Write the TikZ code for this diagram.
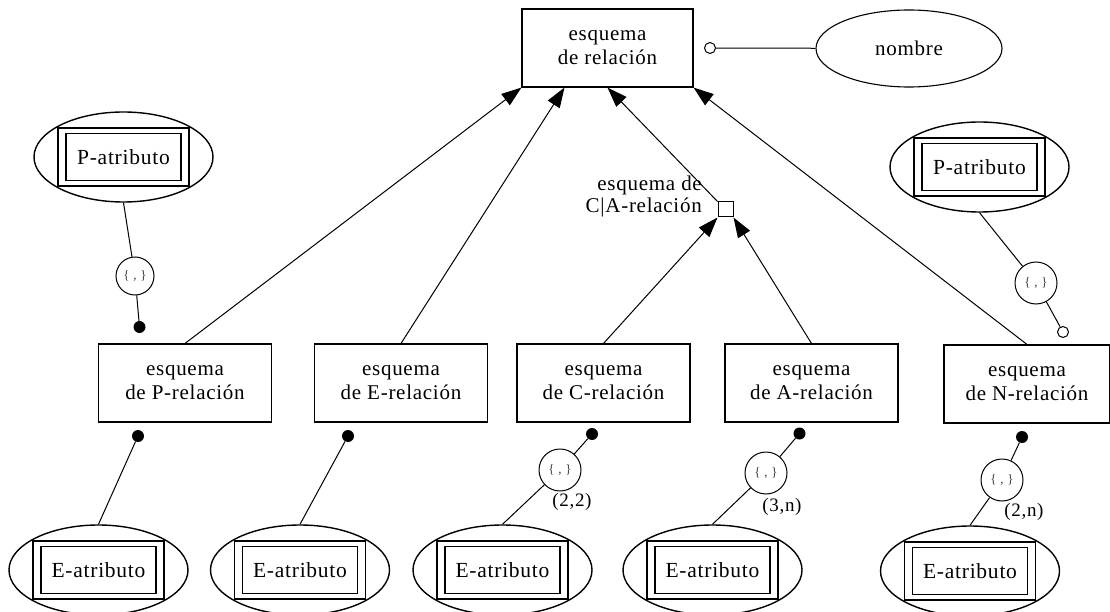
\documentclass[tikz,border=0pt]{standalone}
\usepackage{fontspec}
\setmainfont{Liberation Serif}[LetterSpace=3.5]
\usetikzlibrary{arrows.meta,shapes.geometric,calc}

\tikzset{
  relbox/.style={draw, line width=1.1pt, minimum width=173pt, minimum height=78pt,
    inner sep=0pt, align=center, font=\fontsize{21}{24}\selectfont},
  attrell/.style={draw, ellipse, line width=1.4pt, minimum width=179pt, minimum height=90pt, inner sep=0pt},
  attrout/.style={draw, line width=1.8pt, minimum width=131pt, minimum height=58pt, inner sep=0pt},
  attrin/.style={draw, line width=1.8pt, minimum width=115pt, minimum height=47pt, inner sep=0pt,
    font=\fontsize{21.5}{24}\selectfont},
  setnode/.style={draw, circle, line width=1pt, minimum size=40pt, inner sep=0pt,
    font=\fontsize{13}{13}\selectfont, text=black!75},
  fdot/.style={circle, fill=black, minimum size=12pt, inner sep=0pt},
  odot/.style={circle, draw, line width=1pt, fill=white, minimum size=11pt, inner sep=0pt},
  junct/.style={draw, line width=1pt, minimum size=15pt, inner sep=0pt},
  arr/.style={line width=1pt, -{Triangle[length=20pt,width=14pt]}},
  link/.style={line width=1pt},
  card/.style={font=\fontsize{19}{22}\selectfont, inner sep=0pt},
  lbl/.style={font=\fontsize{21}{22}\selectfont, align=right, inner sep=0pt},
}

% attribute: ellipse holding a double rectangle
\newcommand\attrnode[3]{%
  \node[attrell] (#1) at (#2) {};
  \node[attrout] (#1-o) at (#2) {};
  \node[attrin] (#1-i) at (#2) {#3};
}

\begin{document}
\begin{tikzpicture}[x=1pt,y=-1pt]
\useasboundingbox (0,0) rectangle (1110,612);

% relation schemes
\node[relbox, minimum width=171pt] (top) at (607.5,48) {esquema\\de relación};
\node[relbox] (prel) at (185,383) {esquema\\de P-relación};
\node[relbox] (erel) at (401,383) {esquema\\de E-relación};
\node[relbox] (crel) at (603.5,383) {esquema\\de C-relación};
\node[relbox] (arel) at (811.5,383) {esquema\\de A-relación};
\node[relbox, minimum width=166pt] (nrel) at (1027,384) {esquema\\de N-relación};

% name attribute
\node[draw, ellipse, line width=1.1pt, minimum width=186pt, minimum height=77pt,
  font=\fontsize{21}{24}\selectfont] (nombre) at (909,48.5) {nombre};
\node[odot] (nomdot) at (710,48) {};
\draw[link] (nomdot) -- (nombre);

% C|A junction
\node[junct] (ca) at (725.5,209.5) {};
\node[lbl, anchor=east] (calab) at (702,196) {esquema de\\C|A-relación};

% specialisation arrows
\draw[arr] (prel.north) -- (top.south west);
\draw[arr] (erel.north) -- ($(top.south west)!0.25!(top.south east)$);
\draw[arr] (ca.north west) -- (top.south);
\draw[arr] (nrel.north) -- (top.south east);
\draw[arr] (crel.north) -- (ca.south west);
\draw[arr] (arel.north) -- (ca.south east);

% P-attributes
\attrnode{pa1}{123.5,157}{P-atributo}
\attrnode{pa2}{979.5,167}{P-atributo}

\node[setnode, minimum size=38pt] (s1) at (135,276) {\{ , \}};
\node[fdot] (d1) at (139.5,327) {};
\draw[link] (pa1.south) -- (s1);
\draw[link] (s1) -- (d1);

\node[setnode, minimum size=42pt] (s2) at (1036,283) {\{ , \}};
\node[odot] (d2) at (1063,332) {};
\draw[link] (pa2.south) -- (s2);
\draw[link] (s2) -- (d2);

% E-attributes
\attrnode{ea1}{98.5,570}{E-atributo}
\attrnode{ea2}{300,570}{E-atributo}
\attrnode{ea3}{502.5,570}{E-atributo}
\attrnode{ea4}{712.5,570}{E-atributo}
\attrnode{ea5}{970,571}{E-atributo}

\node[fdot] (b1) at (138,436) {};
\draw[link] (b1) -- (ea1.north);

\node[fdot] (b2) at (348,436) {};
\draw[link] (b2) -- (ea2.north);

\node[fdot] (b3) at (592,434) {};
\node[setnode, minimum size=42pt] (s3) at (560,470) {\{ , \}};
\draw[link] (b3) -- (s3);
\draw[link] (s3) -- (ea3.north);
\node[card] (c3) at (572,502) {(2,2)};

\node[fdot] (b4) at (799.5,433.5) {};
\node[setnode, minimum size=42pt] (s4) at (766,473) {\{ , \}};
\draw[link] (b4) -- (s4);
\draw[link] (s4) -- (ea4.north);
\node[card] (c4) at (782,507) {(3,n)};

\node[fdot] (b5) at (1022,437) {};
\node[setnode, minimum size=42pt] (s5) at (1002,480) {\{ , \}};
\draw[link] (b5) -- (s5);
\draw[link] (s5) -- (ea5.north);
\node[card] (c5) at (1024,512) {(2,n)};
\end{tikzpicture}
\end{document}
